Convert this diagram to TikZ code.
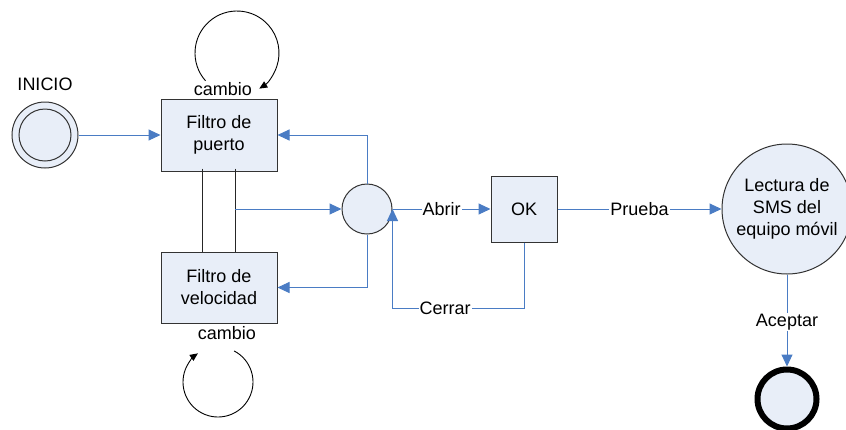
\documentclass[tikz,border=0pt]{standalone}
\usepackage{fontspec}
\setmainfont{Liberation Sans}
\usetikzlibrary{arrows.meta,calc}
\definecolor{fillblue}{HTML}{E8EEF8}
\definecolor{lineblue}{HTML}{4A7CC4}
\tikzset{
  txt/.style={font=\fontsize{18}{22}\selectfont, text=black},
  boxnode/.style={txt, draw=black!80, fill=fillblue, line width=1pt, rectangle, align=center, inner sep=0pt},
  circnode/.style={txt, draw=black!80, fill=fillblue, line width=1pt, circle, align=center, inner sep=0pt},
  bluearrow/.style={draw=lineblue, line width=1pt, -{Triangle[length=12pt,width=11pt]}},
  blueline/.style={draw=lineblue, line width=1pt},
  blackline/.style={draw=black!85, line width=1pt},
  looparrow/.style={draw=black, line width=0.9pt, -{Triangle[length=8pt,width=7pt]}},
  lbl/.style={txt, fill=white, inner sep=1pt}
}
\begin{document}
\begin{tikzpicture}[x=1pt,y=-1pt]
\useasboundingbox (0,0) rectangle (846,429);
% nodes
\node[circnode, minimum size=66pt] (ini) at (45,135) {};
\node[draw=black!80, line width=1pt, circle, minimum size=52pt, inner sep=0pt] (iniin) at (ini) {};
\node[txt] (initxt) at (45,84) {INICIO};
\node[boxnode, minimum width=116pt, minimum height=72pt] (fp) at (219,135) {Filtro de\\puerto};
\node[boxnode, minimum width=116pt, minimum height=71pt] (fv) at (219,287.5) {Filtro de\\velocidad};
\node[circnode, minimum size=50pt] (jc) at (367,209) {};
\node[boxnode, minimum width=66pt, minimum height=66pt] (ok) at (524,209) {OK};
\node[circnode, minimum size=130pt] (sms) at (787,209) {Lectura de\\SMS del\\equipo móvil};
\node[draw=black, fill=fillblue, line width=6pt, circle, minimum size=59pt, inner sep=0pt] (fin) at (787,399) {};
% loop labels
\node[txt] (c1) at (223,89) {cambio};
\node[txt] (c2) at (227,333) {cambio};
\coordinate (lc1) at (237,53);
\coordinate (lc2) at (218,382);
% self loops
\draw[looparrow] ([shift={(221.4:42pt)}]lc1) arc[start angle=221.4, end angle=-58, radius=42pt];
\draw[looparrow] ([shift={(62.7:35pt)}]lc2) arc[start angle=62.7, end angle=-235, radius=35pt];
% black connecting lines between filters
\draw[blackline] ([xshift=-17pt,yshift=3pt]fp.south) -- ([xshift=-17pt]fv.north);
\draw[blackline] ([xshift=16pt,yshift=3pt]fp.south) coordinate (vr1) -- ([xshift=16pt]fv.north) coordinate (vr2);
% blue connectors
\draw[bluearrow] (ini.east) -- (fp.west);
\draw[bluearrow] (vr1 |- jc.west) -- (jc.west);
\draw[bluearrow] (jc.north) |- (fp.east);
\draw[bluearrow] (jc.south) |- (fv.east);
\draw[bluearrow] (jc.east) -- node[lbl] {Abrir} (ok.west);
\coordinate (cb) at (ok.south |- 0,308);
\draw[bluearrow] (ok.south) -- (cb) -- node[lbl, pos=0.6] {Cerrar} (cb -| jc.east) -- (jc.east);
\draw[bluearrow] (ok.east) -- node[lbl] {Prueba} (sms.west);
\draw[bluearrow] (sms.south) -- node[lbl, pos=0.52] {Aceptar} (fin.north);
\end{tikzpicture}
\end{document}
